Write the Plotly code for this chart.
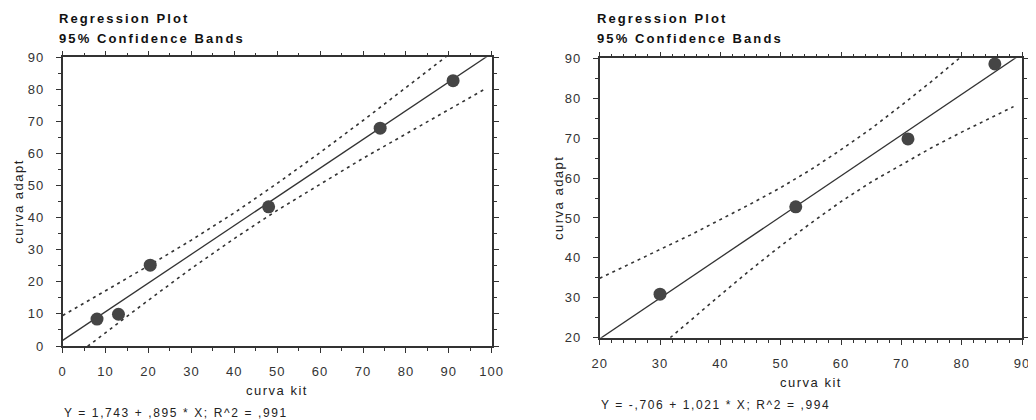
import plotly.graph_objects as go

# ---------------- data ----------------
# Left panel
left_kit = [8, 13, 20.4, 48, 74, 91]
left_adapt = [8.4, 9.9, 25.2, 43.4, 67.9, 82.7]
left_intercept = 1.743
left_slope = 0.895
left_fit_x = [0, 100]
left_upper_x = [0, 10, 20, 30, 40, 50, 60, 70, 80, 89.4]
left_upper_y = [9.5, 17.2, 25.0, 33.0, 41.5, 50.7, 60.3, 70.3, 80.5, 90.2]
left_lower_x = [5.8, 10, 20, 30, 40, 50, 60, 70, 80, 90, 98.3]
left_lower_y = [-0.1, 4.2, 14.3, 24.2, 33.5, 42.3, 50.5, 58.5, 66.1, 73.8, 80.0]
left_xticks = [0, 10, 20, 30, 40, 50, 60, 70, 80, 90, 100]
left_yticks = [0, 10, 20, 30, 40, 50, 60, 70, 80, 90]
left_equation = "Y = 1,743 + ,895 * X; R^2 = ,991"

# Right panel
right_kit = [30, 52.5, 71.1, 85.5]
right_adapt = [30.9, 52.8, 69.8, 88.6]
right_intercept = -0.706
right_slope = 1.021
right_fit_x = [20, 90]
right_upper_x = [20, 25, 30, 35, 40, 45, 50, 55, 60, 65, 70, 75, 80]
right_upper_y = [34.9, 38.4, 42.1, 45.7, 49.5, 53.5, 57.6, 62.1, 67.1, 72.4, 78.2, 84.2, 90.5]
right_lower_x = [31.7, 35, 40, 45, 50, 55, 60, 65, 70, 75, 80, 85, 88.6]
right_lower_y = [20.0, 24.3, 30.7, 37.0, 43.0, 48.7, 54.1, 59.0, 63.4, 67.6, 71.5, 75.3, 77.9]
right_xticks = [20, 30, 40, 50, 60, 70, 80, 90]
right_yticks = [20, 30, 40, 50, 60, 70, 80, 90]
right_equation = "Y = -,706 + 1,021 * X; R^2 = ,994"

title_line1 = "Regression Plot"
title_line2 = "95% Confidence Bands"
x_title = "curva kit"
y_title = "curva adapt"

# ---------------- style ----------------
PAGE_OFFSET = 8          # default body margin of the html page
W, H = 1036 - PAGE_OFFSET, 420 - PAGE_OFFSET
FONT = "Liberation Sans, Arial, sans-serif"
INK = "#333333"
DOT = "#454545"


def sp(text, ls):
    return f'<span style="letter-spacing:{ls}px">{text}</span>'


def px(x):
    return (x - PAGE_OFFSET) / W


def py(y):
    return 1 - (y - PAGE_OFFSET) / H


fig = go.Figure()


def add_panel(kit, adapt, b0, b1, fit_x, ux, uy, lx, ly, xa, ya):
    fit_y = [b0 + b1 * v for v in fit_x]
    common = dict(xaxis=xa, yaxis=ya, showlegend=False, hoverinfo="skip")
    fig.add_trace(go.Scatter(x=ux, y=uy, mode="lines",
                             line=dict(color=INK, width=1.6, dash="3px,4px"), **common))
    fig.add_trace(go.Scatter(x=lx, y=ly, mode="lines",
                             line=dict(color=INK, width=1.6, dash="3px,4px"), **common))
    fig.add_trace(go.Scatter(x=fit_x, y=fit_y, mode="lines",
                             line=dict(color=INK, width=1.3), **common))
    fig.add_trace(go.Scatter(x=kit, y=adapt, mode="markers", cliponaxis=False,
                             marker=dict(color=DOT, size=13, line=dict(width=0)),
                             xaxis=xa, yaxis=ya, showlegend=False))


add_panel(left_kit, left_adapt, left_intercept, left_slope, left_fit_x,
          left_upper_x, left_upper_y, left_lower_x, left_lower_y, "x", "y")
add_panel(right_kit, right_adapt, right_intercept, right_slope, right_fit_x,
          right_upper_x, right_upper_y, right_lower_x, right_lower_y, "x2", "y2")


def axis(rng, ticks, minor_dtick, domain, anchor, standoff):
    return dict(
        range=rng, domain=domain, anchor=anchor, automargin=False,
        tickmode="array", tickvals=ticks, ticktext=[sp(t, 1) for t in ticks],
        showline=True, linecolor=INK, linewidth=1.6, mirror="allticks",
        ticks="outside", ticklen=5, tickwidth=1.2, tickcolor=INK,
        minor=dict(dtick=minor_dtick, tick0=rng[0], ticks="outside", ticklen=3,
                   tickwidth=1, tickcolor=INK, showgrid=False),
        showgrid=False, zeroline=False,
        tickfont=dict(family=FONT, size=13, color=INK),
        ticklabelstandoff=standoff,
    )


# plot-area pixel boxes
L_box = (62.7, 491.7, 57.3, 346.0)
R_box = (599.7, 1022.0, 58.3, 337.7)

fig.update_layout(
    width=W, height=H,
    margin=dict(l=0, r=0, t=0, b=0, autoexpand=False),
    paper_bgcolor="white", plot_bgcolor="white",
    showlegend=False,
    xaxis=axis([0, 100], left_xticks, 5, [px(L_box[0]), px(L_box[1])], "y", 8),
    yaxis=axis([0, 90], left_yticks, 5, [py(L_box[3]), py(L_box[2])], "x", 9),
    xaxis2=axis([20, 90], right_xticks, 2, [px(R_box[0]), px(R_box[1])], "y2", 8),
    yaxis2=axis([20, 90], right_yticks, 5, [py(R_box[3]), py(R_box[2])], "x2", 9),
)

annotations = []


def note(text, x, y, size, xanchor="left", bold=False, ls=1.5, angle=0, color="#222222"):
    t = sp(text, ls)
    if bold:
        t = f"<b>{t}</b>"
    annotations.append(dict(
        text=t, x=px(x), y=py(y), xref="paper", yref="paper",
        xanchor=xanchor, yanchor="middle", showarrow=False, textangle=angle,
        font=dict(family=FONT, size=size, color=color),
    ))


for x0, box, eq, eq_y, xt_y, yt_x in [
    (57, L_box, left_equation, 412.5, 390, 19),
    (595, R_box, right_equation, 405, 382, 558),
]:
    note(title_line1, x0, 19, 13, bold=True, ls=2.1, color="#111111")
    note(title_line2, x0, 39, 13, bold=True, ls=2.1, color="#111111")
    note(eq, box[0] - 1, eq_y, 12, ls=1.6)
    note(x_title, (box[0] + box[1]) / 2, xt_y, 13, xanchor="center", ls=1.5)
    note(y_title, yt_x, (box[2] + box[3]) / 2, 13, xanchor="center", ls=1.5, angle=-90)

fig.update_layout(annotations=annotations)

fig.write_html("out.html")
